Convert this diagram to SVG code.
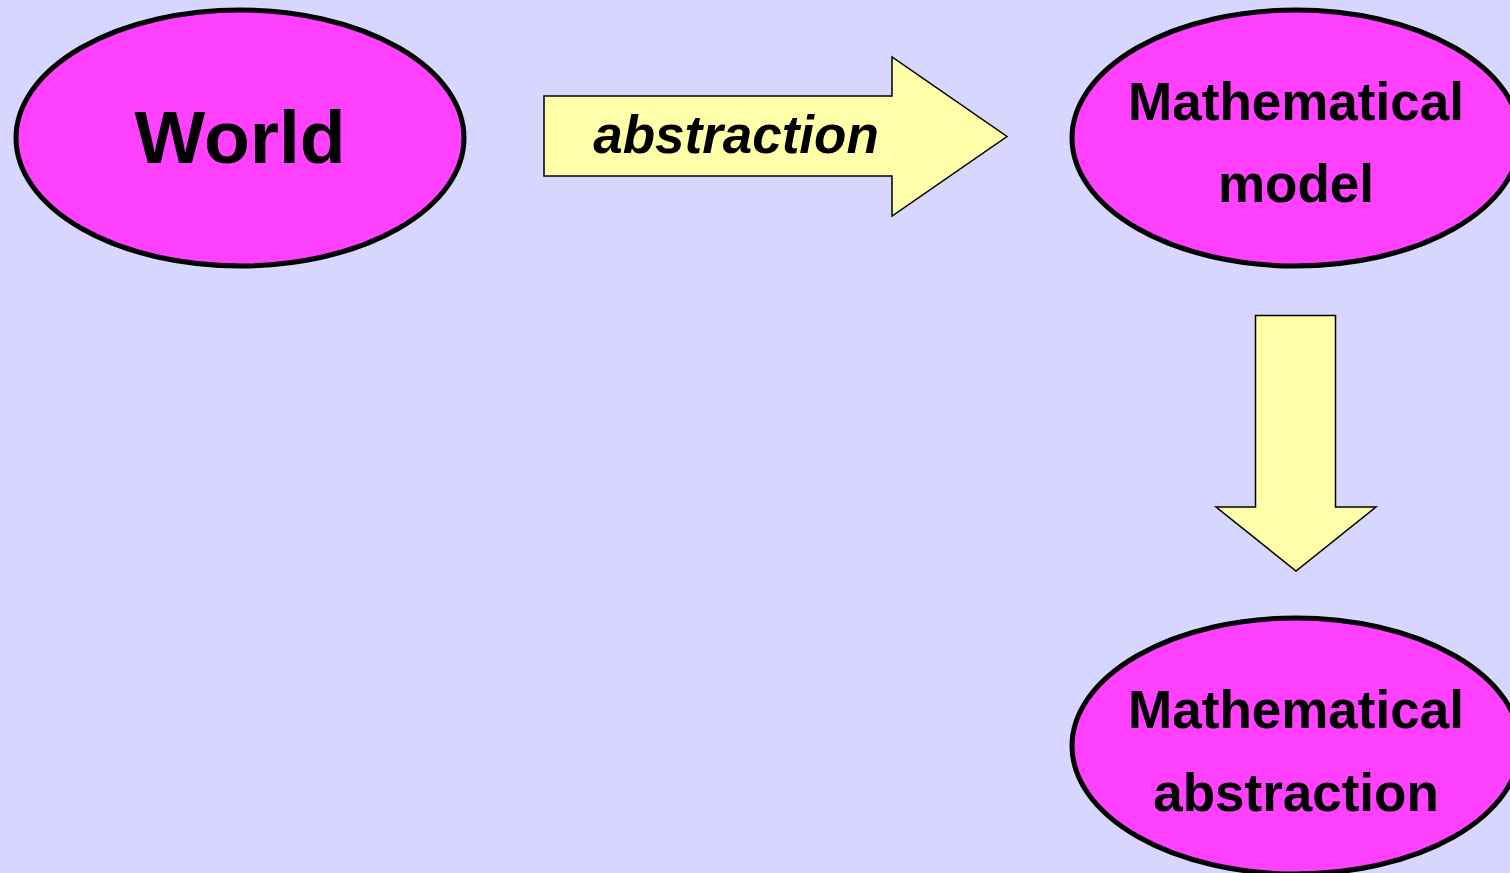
<svg xmlns="http://www.w3.org/2000/svg" width="1510" height="873" viewBox="0 0 1510 873">
  <style>
    .node { fill: #ff40ff; stroke: #000; stroke-width: 5; }
    .label { font-family: "Liberation Sans", Arial, sans-serif; font-weight: bold; fill: #000; text-anchor: middle; }
    .big { font-size: 75px; }
    .mid { font-size: 53px; }
    .arrow { fill: #ffffaa; stroke: #000; stroke-width: 1.5; stroke-linejoin: miter; }
  </style>
  <rect width="1510" height="873" fill="#d6d6ff"/>

  <g id="world">
    <ellipse class="node" cx="240" cy="138" rx="224" ry="128"/>
    <text class="label big" x="240" y="163">World</text>
  </g>

  <g id="mathematical-model">
    <ellipse class="node" cx="1296" cy="138" rx="224" ry="128"/>
    <text class="label mid" x="1296" y="120">Mathematical</text>
    <text class="label mid" x="1296" y="202">model</text>
  </g>

  <g id="mathematical-abstraction">
    <ellipse class="node" cx="1296" cy="746" rx="224" ry="128"/>
    <text class="label mid" x="1296" y="728">Mathematical</text>
    <text class="label mid" x="1296" y="811">abstraction</text>
  </g>

  <g id="connectors">
    <g id="abstraction-arrow">
      <polygon class="arrow" points="544,96 892,96 892,57 1007,136.5 892,216 892,176 544,176"/>
      <text class="label mid" x="736" y="153" font-style="italic">abstraction</text>
    </g>
    <polygon id="down-arrow" class="arrow" points="1255.5,315.5 1335.5,315.5 1335.5,507 1376,507 1296,571 1216,507 1255.5,507"/>
  </g>
</svg>
